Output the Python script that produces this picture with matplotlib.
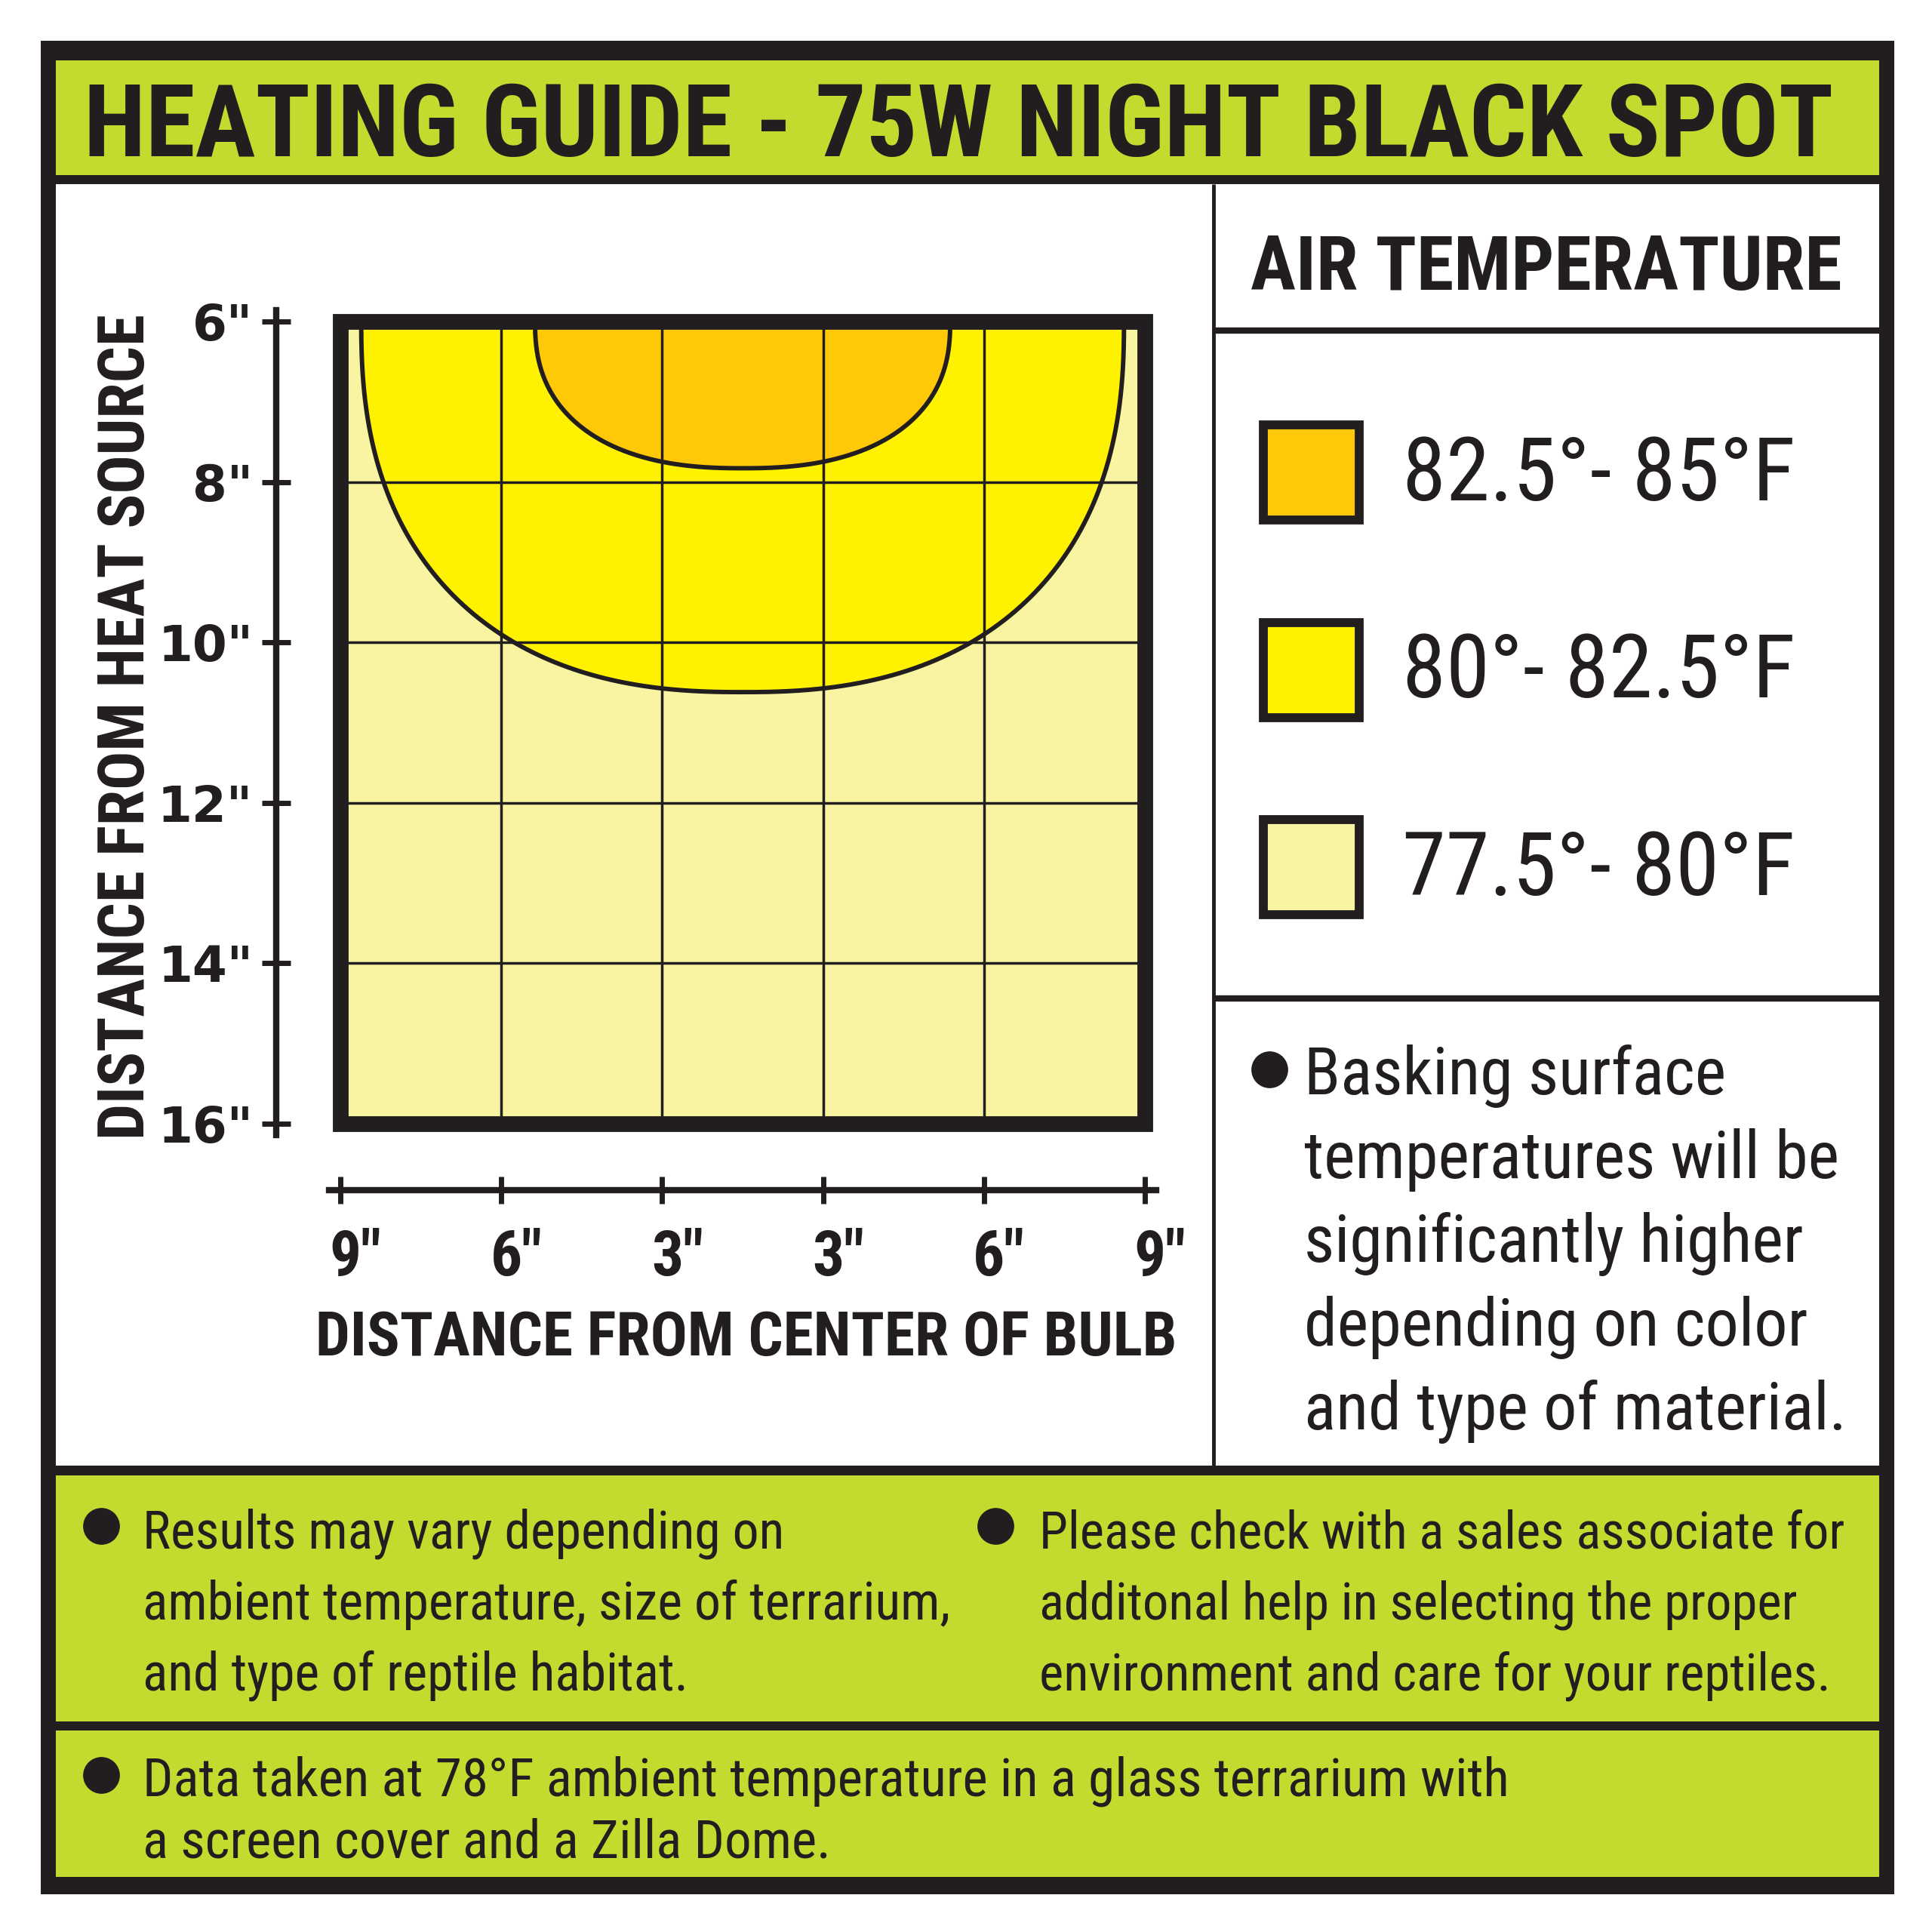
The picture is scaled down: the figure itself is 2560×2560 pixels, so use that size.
import numpy as np
import matplotlib
matplotlib.use("Agg")
import matplotlib.pyplot as plt
from matplotlib import font_manager as fm
from matplotlib.patches import Rectangle, Polygon
from matplotlib.transforms import ScaledTranslation

# ---------------- data ----------------
title = "HEATING GUIDE - 75W NIGHT BLACK SPOT"
legend_title = "AIR TEMPERATURE"
zone_labels = ["82.5°- 85°F", "80°- 82.5°F", "77.5°- 80°F"]
zone_colors = ["#FFC908", "#FFF200", "#F9F4A2"]
# warm zones hanging below the bulb: half-width (grid cells) and lowest reach (inches)
zone_half_width = [1.29, 2.37]
zone_bottom = [7.83, 10.62]
zone_center = 2.5

x_ticks = [0, 1, 2, 3, 4, 5]
x_tick_labels = ['9"', '6"', '3"', '3"', '6"', '9"']
y_ticks = [6, 8, 10, 12, 14, 16]
y_tick_labels = ['6"', '8"', '10"', '12"', '14"', '16"']
xlabel = "DISTANCE FROM CENTER OF BULB"
ylabel = "DISTANCE FROM HEAT SOURCE"

note_side = ["Basking surface", "temperatures will be", "significantly higher",
             "depending on color", "and type of material."]
note_left = ["Results may vary depending on", "ambient temperature, size of terrarium,",
             "and type of reptile habitat."]
note_right = ["Please check with a sales associate for", "additonal help in selecting the proper",
              "environment and care for your reptiles."]
note_bottom = ["Data taken at 78°F ambient temperature in a glass terrarium with",
               "a screen cover and a Zilla Dome."]

# ---------------- style ----------------
BLACK = "#221E1F"
LIME = "#C5DA2F"
W = 2560
DPI = 250

_installed = {f.name for f in fm.fontManager.ttflist}


def narrow(weight="normal"):
    """Pick the narrowest installed sans face for the condensed lettering."""
    for fam in ("Liberation Sans Narrow", "Roboto Condensed", "Open Sans Condensed"):
        if fam in _installed:
            return dict(fontfamily=fam, fontweight=weight)
    path = fm.findfont(fm.FontProperties(family="DejaVu Sans", stretch="condensed",
                                         weight=weight), fallback_to_default=True)
    if "Condensed" in path:
        return dict(fontfamily="DejaVu Sans", fontstretch="condensed", fontweight=weight)
    return dict(fontfamily="Roboto", fontweight=weight)


fig = plt.figure(figsize=(W / DPI, W / DPI), dpi=DPI)
fig.patch.set_facecolor("white")
renderer = fig.canvas.get_renderer()

# page layer in pixel coordinates (origin top-left)
bg = fig.add_axes([0, 0, 1, 1], zorder=0)
bg.set_xlim(0, W)
bg.set_ylim(W, 0)
bg.axis("off")


def box(x0, y0, x1, y1, **kw):
    bg.add_patch(Rectangle((x0, y0), x1 - x0, y1 - y0, **kw))


def fit(t, width, vertical=False):
    bb = t.get_window_extent(renderer)
    size = bb.height if vertical else bb.width
    t.set_fontsize(t.get_fontsize() * width / size)
    return t.get_fontsize()


# frame and panels
box(54, 54, 2510, 2510, fc=BLACK, ec="none")
box(74, 80, 2490, 232, fc=LIME, ec="none")
box(74, 244, 2490, 1942, fc="white", ec="none")
box(74, 1955, 2490, 2281, fc=LIME, ec="none")
box(74, 2293, 2490, 2487, fc=LIME, ec="none")
bg.plot([1608, 1608], [244, 1942], color=BLACK, lw=1.4, solid_capstyle="butt")
bg.plot([1608, 2490], [438, 438], color=BLACK, lw=2.4, solid_capstyle="butt")
bg.plot([1608, 2490], [1323, 1323], color=BLACK, lw=2.4, solid_capstyle="butt")

# title
t = bg.text(111, 207, title, ha="left", va="baseline", fontsize=40, color=BLACK,
            **narrow("black"))
fit(t, 2317)

# legend
t = bg.text(2049, 384, legend_title, ha="center", va="baseline", fontsize=30,
            color=BLACK, **narrow("bold"))
fit(t, 784)
sq_tops = [563, 825, 1086]
lbl_base = [663, 924, 1186]
lbl_size = None
for lab, col, top, base in zip(zone_labels, zone_colors, sq_tops, lbl_base):
    box(1674, top, 1801, top + 126, fc=col, ec=BLACK, lw=3.4)
    t = bg.text(1858, base, lab, ha="left", va="baseline",
                fontsize=30 if lbl_size is None else lbl_size, color=BLACK, **narrow())
    if lbl_size is None:
        lbl_size = fit(t, 521)


def block(lines, x, baselines, ref_idx, ref_width, bullet_xy):
    texts = [bg.text(x, b, s, ha="left", va="baseline", fontsize=20, color=BLACK,
                     **narrow()) for s, b in zip(lines, baselines)]
    size = fit(texts[ref_idx], ref_width)
    for tt in texts:
        tt.set_fontsize(size)
    bg.scatter([bullet_xy[0]], [bullet_xy[1]], s=170, color=BLACK, zorder=3)


block(note_side, 1728, [1450, 1561, 1672, 1783, 1894], 1, 709, (1682, 1417))
block(note_left, 189, [2051, 2146, 2239], 1, 1071, (134, 2022))
block(note_right, 1377, [2051, 2146, 2239], 0, 1068, (1319, 2022))
block(note_bottom, 189, [2379, 2461], 0, 1813, (134, 2352))

# axis titles
t = bg.text(989, 1796, xlabel, ha="center", va="baseline", fontsize=30, color=BLACK,
            **narrow("bold"))
fit(t, 1141)
t = bg.text(191, 963, ylabel, ha="center", va="baseline", rotation=90,
            rotation_mode="anchor", fontsize=30, color=BLACK, **narrow("bold"))
fit(t, 1094, vertical=True)

# ---------------- chart ----------------
def fig_rect(x0, y0, x1, y1):
    return [x0 / W, 1 - y1 / W, (x1 - x0) / W, (y1 - y0) / W]


ax = fig.add_axes(fig_rect(436, 411, 1532, 1504), zorder=2)
ax.patch.set_alpha(0)
ax.set_xlim(-0.07, 5.07)
ax.set_ylim(16.14, 5.86)

ax.add_patch(Rectangle((0, 6), 5, 10, fc=zone_colors[2], ec="none", zorder=1))
theta = np.linspace(0, np.pi, 300)
expo = 2 / 2.4
for hw, bot, col in zip(zone_half_width[::-1], zone_bottom[::-1], zone_colors[1::-1]):
    c, s = np.cos(theta), np.sin(theta)
    xs = zone_center + hw * np.sign(c) * np.abs(c) ** expo
    ys = 6 + (bot - 6) * np.abs(s) ** expo
    ax.add_patch(Polygon(np.column_stack([xs, ys]), closed=True, fc=col, ec="none", zorder=2))
    ax.plot(xs, ys, color=BLACK, lw=1.7, zorder=4)

ax.hlines(y_ticks[1:-1], 0, 5, color=BLACK, lw=1.0, zorder=3)
ax.vlines(x_ticks[1:-1], 6, 16, color=BLACK, lw=1.0, zorder=3)
ax.add_patch(Rectangle((0, 6), 5, 10, fill=False, ec=BLACK, lw=6, zorder=5,
                       joinstyle="miter"))

# rulers
for side in ("top", "right"):
    ax.spines[side].set_visible(False)
ax.spines["left"].set_position(("outward", 70 * 72 / DPI))
ax.spines["bottom"].set_position(("outward", 73 * 72 / DPI))
for side in ("left", "bottom"):
    ax.spines[side].set_linewidth(2.4)
    ax.spines[side].set_color(BLACK)

ax.set_xticks(x_ticks, x_tick_labels)
ax.set_yticks(y_ticks, y_tick_labels)
ax.tick_params(axis="x", direction="inout", length=10.5, width=2, color=BLACK, pad=9.5)
ax.tick_params(axis="y", direction="inout", length=11, width=2, color=BLACK, pad=3.4)
xprops = narrow("bold")
for lbl in ax.get_xticklabels():
    lbl.set_fontfamily(xprops["fontfamily"])
    lbl.set_fontweight("bold")
    if "fontstretch" in xprops:
        lbl.set_fontstretch(xprops["fontstretch"])
    lbl.set_fontsize(24)
    lbl.set_color(BLACK)
    lbl.set_transform(lbl.get_transform() + ScaledTranslation(20 / DPI, 0, fig.dpi_scale_trans))
for lbl in ax.get_yticklabels():
    lbl.set_fontfamily("DejaVu Sans")
    lbl.set_fontweight("heavy")
    lbl.set_fontsize(19)
    lbl.set_color(BLACK)

fig.savefig("out.png", dpi=DPI, facecolor="white")
